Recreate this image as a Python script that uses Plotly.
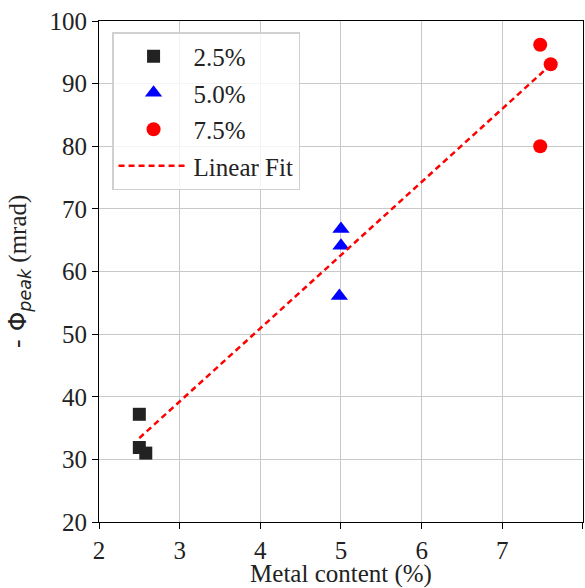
import plotly.graph_objects as go

# data
x_25 = [2.50, 2.50, 2.58]
y_25 = [37.2, 31.9, 31.0]
x_50 = [5.00, 5.00, 4.98]
y_50 = [66.8, 64.1, 56.1]
x_75 = [7.47, 7.60, 7.47]
y_75 = [96.2, 93.1, 80.0]
fit_x = [2.50, 7.60]
fit_y = [33.4, 93.0]
x_ticks = [2, 3, 4, 5, 6, 7, 8]
y_ticks = [20, 30, 40, 50, 60, 70, 80, 90, 100]

serif = "'Liberation Serif', 'Times New Roman', serif"
fs = 25
fig = go.Figure()
fig.add_trace(go.Scatter(x=x_25, y=y_25, mode="markers", name="2.5%", legendgroup="a",
                         marker=dict(symbol="square", size=13, color="#222222")))
fig.add_trace(go.Scatter(x=x_50, y=y_50, mode="markers", name="5.0%", legendgroup="b",
                         marker=dict(symbol="triangle-up", size=15, color="blue")))
fig.add_trace(go.Scatter(x=x_75, y=y_75, mode="markers", name="7.5%", legendgroup="c",
                         marker=dict(symbol="circle", size=14, color="red")))
fig.add_trace(go.Scatter(x=fit_x, y=fit_y, mode="lines", name="Linear Fit", legendgroup="d",
                         line=dict(color="red", width=2.5, dash="6px,4px")))

axis_common = dict(showgrid=True, gridcolor="#c8c8c8", gridwidth=1, showline=True,
                   linecolor="black", linewidth=1.2, mirror=True, ticks="outside",
                   ticklen=6, tickcolor="black", zeroline=False, automargin=False,
                   tickfont=dict(family=serif, size=fs, color="#222"))
ytitle = ("<span style=\"font-family:DejaVu Sans\">- Φ<sub><i>peak</i></sub></span>"
          "<span style=\"font-family:Liberation Serif\"> (mrad)</span>")
fig.update_layout(
    width=585, height=588,
    margin=dict(l=99, r=2, t=21, b=66, autoexpand=False),
    paper_bgcolor="white", plot_bgcolor="white",
    font=dict(family=serif, size=fs, color="#222"),
    xaxis=dict(range=[2, 8.0005], tickvals=x_ticks,
               title=dict(text="Metal content (%)", font=dict(family=serif, size=fs)),
               **axis_common),
    yaxis=dict(range=[20, 100], tickvals=y_ticks,
               title=dict(text=ytitle, font=dict(family=serif, size=fs)),
               **axis_common),
    legend=dict(x=0.027, y=0.978, xanchor="left", yanchor="top",
                bgcolor="rgba(255,255,255,0.8)", bordercolor="#d0d0d0", borderwidth=1.5,
                font=dict(family=serif, size=fs, color="#222"),
                tracegroupgap=1, itemwidth=70, entrywidth=112),
    showlegend=True,
)
fig.write_html("out.html", config={"displayModeBar": False},
               post_script="document.body.style.margin='0px';document.body.style.padding='0px';")
